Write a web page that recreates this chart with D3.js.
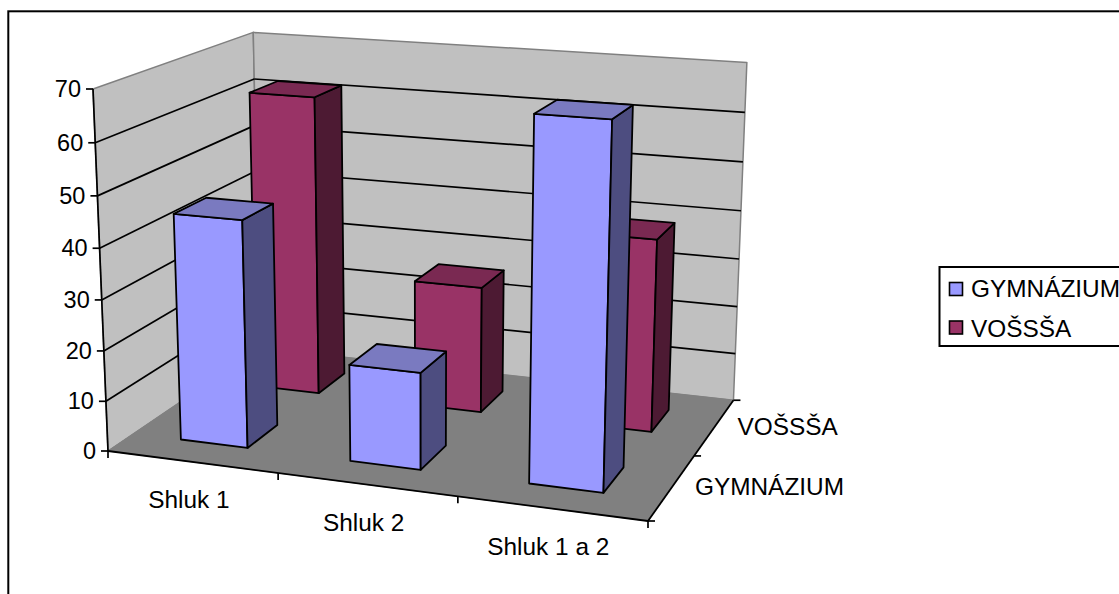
<!DOCTYPE html>
<html>
<head>
<meta charset="utf-8">
<script src="https://cdn.jsdelivr.net/npm/d3@7"></script>
<style>
html, body { margin: 0; padding: 0; background: #fff; overflow: hidden; }
text { font-family: "Liberation Sans", Arial, sans-serif; font-size: 24.4px; fill: #000; }
text.value { font-size: 23.5px; }
</style>
</head>
<body>
<script>
var categories = ["Shluk 1", "Shluk 2", "Shluk 1 a 2"];
var seriesNames = ["GYMNÁZIUM", "VOŠSŠA"];
var gymnazium = [45, 19, 69];
var vosssa = [62, 26, 39];
var valueTicks = [0, 10, 20, 30, 40, 50, 60, 70];

var w = 1119, h = 594;

var colors = {
    "GYMNÁZIUM": { front: "#9999ff", side: "#4d4d80", top: "#7a7ac0" },
    "VOŠSŠA": { front: "#993366", side: "#4d1a33", top: "#7a2952" }
};

var svg = d3.select("body").append("svg")
    .attr("width", w)
    .attr("height", h);

// perspective of the box: origin corner, the three far corners and their weights
var O = [108, 451], C = [648, 521], S = [260, 348], V = [93, 89];
var wc = 0.92, ws = 1.155, wv = 0.955;

var x = d3.scaleBand().domain(categories).range([-0.004, 0.996]).paddingInner(0.6).paddingOuter(0.3);
var z = d3.scaleBand().domain(seriesNames).range([0, 1]).paddingInner(0.6).paddingOuter(0.3);
var y = d3.scaleLinear().domain([0, 70]).range([0, 1]);

function project(c, s, v) {
    var d = 1 + c * (wc - 1) + s * (ws - 1) + v * (wv - 1);
    return [0, 1].map(i => (O[i] + c * (C[i] * wc - O[i]) + s * (S[i] * ws - O[i]) + v * (V[i] * wv - O[i])) / d);
}

function poly(pts) {
    return d3.line()(pts) + "Z";
}

function face(pts, fill, stroke, sw) {
    svg.append("path")
        .attr("d", poly(pts))
        .attr("fill", fill)
        .attr("stroke", stroke)
        .attr("stroke-width", sw)
        .attr("stroke-linejoin", "round");
}

function seg(a, b, color, sw) {
    svg.append("line")
        .attr("x1", a[0]).attr("y1", a[1])
        .attr("x2", b[0]).attr("y2", b[1])
        .attr("stroke", color)
        .attr("stroke-width", sw);
}

// chart frame, runs off the right and bottom of the picture
svg.append("rect")
    .attr("x", 8.3).attr("y", 11.3)
    .attr("width", w + 20).attr("height", h + 20)
    .attr("fill", "#fff")
    .attr("stroke", "#000")
    .attr("stroke-width", 2);

// walls and floor
face([project(0, 0, 0), project(0, 1, 0), project(0, 1, 1), project(0, 0, 1)], "#c0c0c0", "#808080", 1.5);
face([project(0, 1, 0), project(1, 1, 0), project(1, 1, 1), project(0, 1, 1)], "#c0c0c0", "#808080", 1.5);
face([project(0, 0, 0), project(1, 0, 0), project(1, 1, 0), project(0, 1, 0)], "#808080", "#808080", 1);

// gridlines
valueTicks.slice(1, -1).forEach(t => {
    var v = y(t);
    seg(project(0, 0, v), project(0, 1, v), "#000", 1.7);
    seg(project(0, 1, v), project(1, 1, v), "#000", 1.7);
});

// axis lines
seg(project(0, 0, 0), project(0, 0, 1), "#000", 1.7);
seg(project(0, 0, 0), project(1, 0, 0), "#000", 1.8);
seg(project(1, 0, 0), project(1, 1, 0), "#000", 1.8);

// value axis
valueTicks.forEach(t => {
    var p = project(0, 0, y(t));
    seg([p[0] - 7, p[1]], p, "#000", 1.7);
    svg.append("text")
        .attr("class", "value")
        .attr("x", p[0] - 12)
        .attr("y", p[1] + 8)
        .attr("text-anchor", "end")
        .text(t);
});

// category axis
d3.range(categories.length + 1).forEach(i => {
    var p = project(i / categories.length, 0, 0);
    seg(p, [p[0], p[1] + 7], "#000", 1.7);
});
categories.forEach(d => {
    var p = project(x(d) + x.bandwidth() / 2, 0, 0);
    svg.append("text")
        .attr("x", p[0] - 1)
        .attr("y", p[1] + 46.5)
        .attr("text-anchor", "middle")
        .text(d);
});

// series axis
d3.range(seriesNames.length + 1).forEach(i => {
    var p = project(1, i / seriesNames.length, 0);
    seg(p, [p[0] + 7, p[1]], "#000", 1.7);
});
seriesNames.forEach(d => {
    var p = project(1, z(d) + z.bandwidth() / 2, 0);
    svg.append("text")
        .attr("x", p[0] + 23)
        .attr("y", p[1] + 8)
        .text(d);
});

// bars, back row first so the front row covers it
function bar(cat, name, value) {
    var c0 = x(cat), c1 = c0 + x.bandwidth();
    var s0 = z(name), s1 = s0 + z.bandwidth();
    var v = y(value);
    var col = colors[name];
    face([project(c0, s0, 0), project(c1, s0, 0), project(c1, s0, v), project(c0, s0, v)], col.front, "#000", 1.8);
    face([project(c1, s0, 0), project(c1, s1, 0), project(c1, s1, v), project(c1, s0, v)], col.side, "#000", 1.8);
    face([project(c0, s0, v), project(c1, s0, v), project(c1, s1, v), project(c0, s1, v)], col.top, "#000", 1.8);
}

categories.forEach((d, i) => bar(d, "VOŠSŠA", vosssa[i]));
categories.forEach((d, i) => bar(d, "GYMNÁZIUM", gymnazium[i]));

// legend
var legend = svg.append("g");

legend.append("rect")
    .attr("x", 939.5).attr("y", 267)
    .attr("width", 200).attr("height", 79)
    .attr("fill", "#fff")
    .attr("stroke", "#000")
    .attr("stroke-width", 2);

seriesNames.forEach((d, i) => {
    legend.append("rect")
        .attr("x", 949.5).attr("y", 282.5 + i * 38.5)
        .attr("width", 13).attr("height", 13)
        .attr("fill", colors[d].front)
        .attr("stroke", "#000")
        .attr("stroke-width", 1.6);
    legend.append("text")
        .attr("x", 971)
        .attr("y", 296.5 + i * 40)
        .text(d);
});
</script>
</body>
</html>
